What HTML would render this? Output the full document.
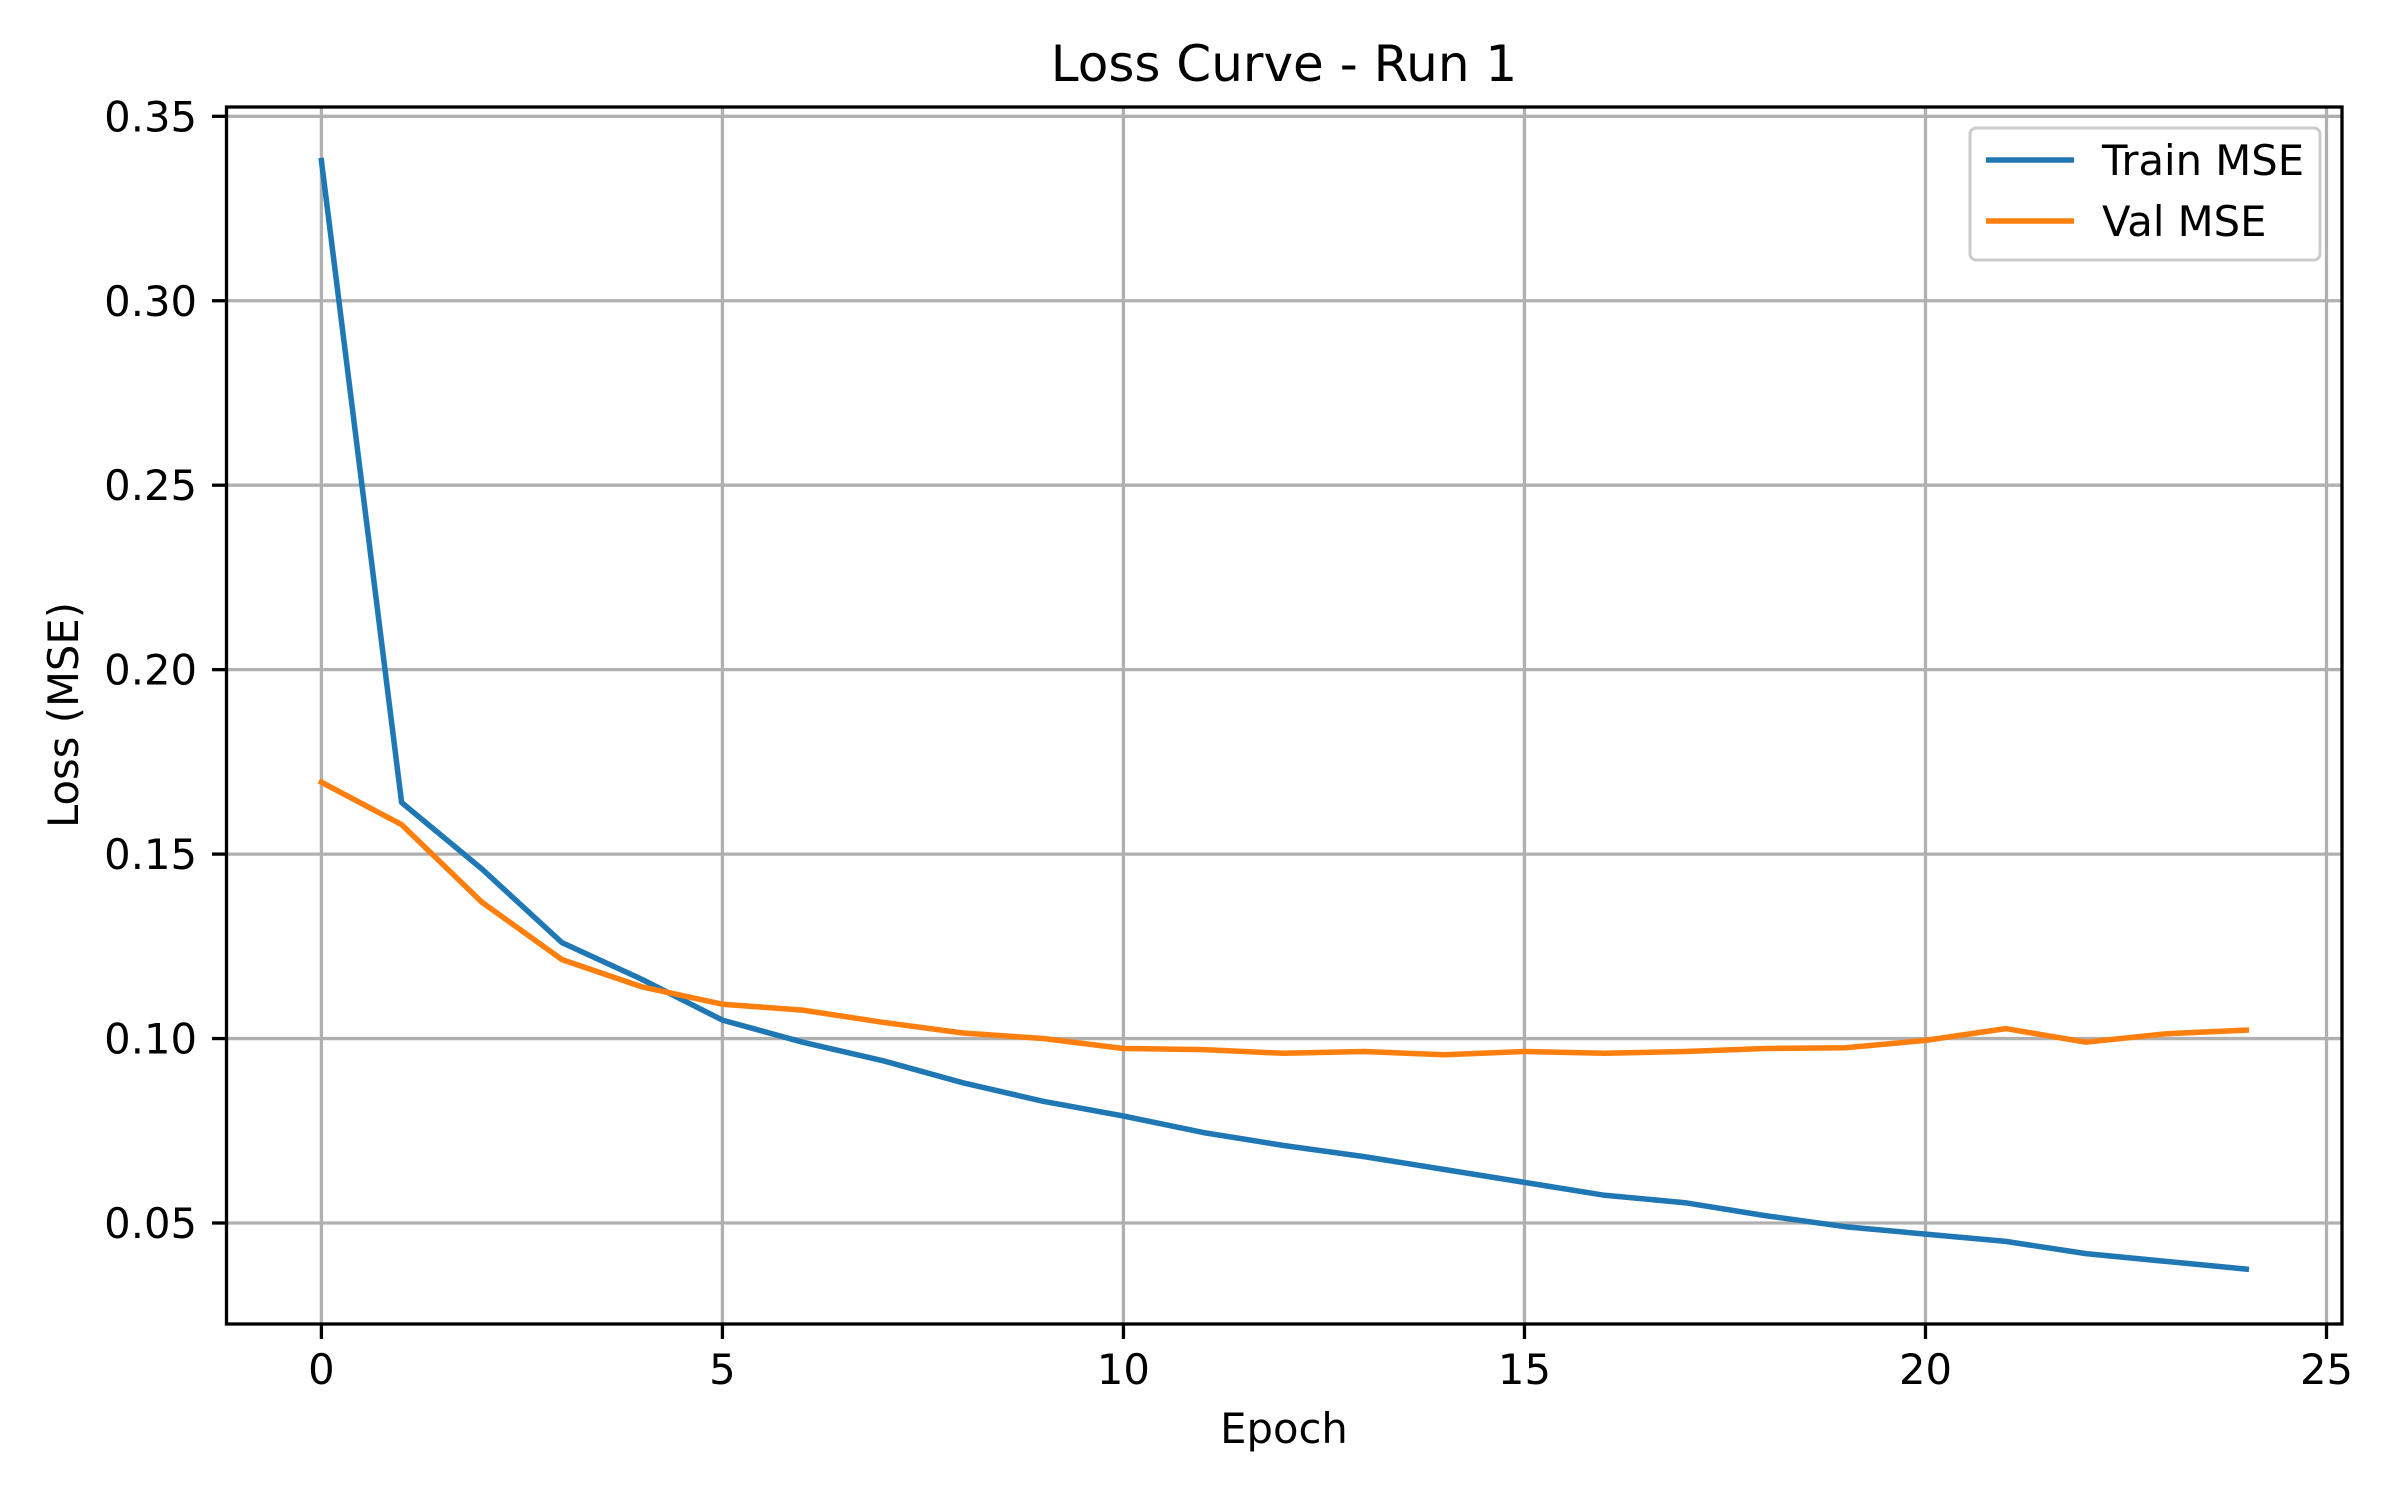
<!DOCTYPE html>
<html><head><meta charset="utf-8"><style>
html,body{margin:0;padding:0;background:#fff;}
svg{display:block;font-family:"DejaVu Sans","Liberation Sans",sans-serif;}
</style></head><body>
<svg id="chart" width="2400" height="1500" viewBox="0 0 2400 1500" xmlns="http://www.w3.org/2000/svg">
<rect width="2400" height="1500" fill="#fff"/>
<g id="grid"></g>
<g id="series"></g>
<rect x="226.5" y="107" width="2115.5" height="1217" fill="none" stroke="#000" stroke-width="3.3"/>
<g id="ticks"></g>
<text x="1284" y="81" font-size="50" text-anchor="middle">Loss Curve - Run 1</text>
<text x="1284" y="1443" font-size="41.7" text-anchor="middle">Epoch</text>
<text transform="translate(78,715) rotate(-90)" font-size="41.7" text-anchor="middle">Loss (MSE)</text>
<g>
<rect x="1970" y="128" width="350" height="132" rx="6" fill="#fff" fill-opacity="0.8" stroke="#ccc" stroke-width="3"/>
<line x1="1986" y1="160" x2="2074" y2="160" stroke="#1f77b4" stroke-width="5.5"/>
<text x="2102" y="175" font-size="41.7">Train MSE</text>
<line x1="1986" y1="221" x2="2074" y2="221" stroke="#ff7f0e" stroke-width="5.5"/>
<text x="2102" y="236" font-size="41.7">Val MSE</text>
</g>
</svg>
<script>
const epochs = [0,1,2,3,4,5,6,7,8,9,10,11,12,13,14,15,16,17,18,19,20,21,22,23,24];
const trainMSE = [0.338,0.164,0.146,0.126,0.116,0.105,0.099,0.094,0.088,0.083,0.079,0.0745,0.071,0.068,0.0645,0.061,0.0575,0.0555,0.052,0.049,0.047,0.045,0.0417,0.0396,0.0375];
const valMSE = [0.1695,0.158,0.137,0.1214,0.114,0.1093,0.1077,0.1044,0.1015,0.100,0.0973,0.097,0.096,0.0965,0.0956,0.0965,0.096,0.0965,0.0973,0.0975,0.0995,0.1027,0.099,0.1013,0.1023];
const xTicks = [0,5,10,15,20,25];
const yTicks = [0.05,0.10,0.15,0.20,0.25,0.30,0.35];
const yTickLabels = ["0.05","0.10","0.15","0.20","0.25","0.30","0.35"];

const NS = "http://www.w3.org/2000/svg";
function xs(v){ return 321.4 + v * (2326.5 - 321.4) / 25; }
function ys(v){ return 1223 - (v - 0.05) * (1223 - 116.3) / 0.30; }
function mk(tag, attrs, parent){
  const e = document.createElementNS(NS, tag);
  for (const k in attrs) e.setAttribute(k, attrs[k]);
  parent.appendChild(e);
  return e;
}
const grid = document.getElementById('grid');
const ticks = document.getElementById('ticks');
const series = document.getElementById('series');

xTicks.forEach(t => {
  const x = xs(t);
  const g = mk('line', {x1:x, y1:107, x2:x, y2:1324, stroke:'#b0b0b0', 'stroke-width':3.3}, grid);
  
  
  const tk = mk('line', {x1:x, y1:1324, x2:x, y2:1339, stroke:'#000', 'stroke-width':3.3}, ticks);
  
  
  const tx = mk('text', {x:x, y:1384, 'font-size':41.7, 'text-anchor':'middle'}, ticks);
  tx.textContent = String(t);
  
  
});
yTicks.forEach((t, i) => {
  const y = ys(t);
  const g = mk('line', {x1:226.5, y1:y, x2:2342, y2:y, stroke:'#b0b0b0', 'stroke-width':3.3}, grid);
  
  
  const tk = mk('line', {x1:212, y1:y, x2:226.5, y2:y, stroke:'#000', 'stroke-width':3.3}, ticks);
  
  
  const tx = mk('text', {x:197, y:y+15, 'font-size':41.7, 'text-anchor':'end'}, ticks);
  tx.textContent = yTickLabels[i];
  
  
});
function drawLine(vals, color, name){
  const pts = vals.map((v, i) => xs(epochs[i]).toFixed(1) + ',' + ys(v).toFixed(1)).join(' ');
  const p = mk('polyline', {points:pts, fill:'none', stroke:color, 'stroke-width':5.5, 'stroke-linejoin':'round', 'stroke-linecap':'square'}, series);
  
  
}
drawLine(trainMSE, '#1f77b4', 'train-mse-line');
drawLine(valMSE, '#ff7f0e', 'val-mse-line');
</script>
</body></html>
